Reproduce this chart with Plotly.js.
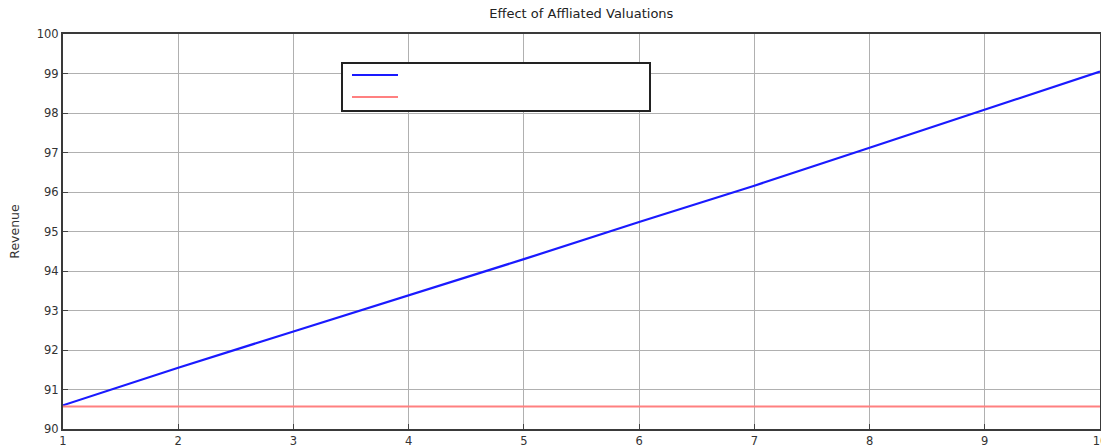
<!DOCTYPE html>
<html>
<head>
<meta charset="utf-8">
<script src="https://cdn.plot.ly/plotly-3.0.1.min.js"></script>
<style>html,body{margin:0;padding:0;background:#fff;}#chart{width:1101px;height:448px;}</style>
</head>
<body>
<div id="chart"></div>
<script>
const xValues = [1, 2, 3, 4, 5, 6, 7, 8, 9, 10];
const affiliatedRevenue = [90.6, 91.55, 92.47, 93.38, 94.3, 95.24, 96.16, 97.12, 98.08, 99.05];
const baselineRevenue = [90.57, 90.57, 90.57, 90.57, 90.57, 90.57, 90.57, 90.57, 90.57, 90.57];
const xTicks = [1, 2, 3, 4, 5, 6, 7, 8, 9, 10];
const yTicks = [90, 91, 92, 93, 94, 95, 96, 97, 98, 99, 100];

const font = {family: 'DejaVu Sans, Liberation Sans, sans-serif', size: 11.5, color: '#333'};

const traces = [
  {x: xValues, y: affiliatedRevenue, mode: 'lines', line: {color: '#1a1aff', width: 2.2}, name: ' ', hoverinfo: 'x+y'},
  {x: xValues, y: baselineRevenue, mode: 'lines', line: {color: '#ff8080', width: 2}, name: ' ', hoverinfo: 'x+y'}
];

const layout = {
  width: 1101, height: 448,
  margin: {l: 63, r: 1, t: 34, b: 19},
  paper_bgcolor: '#fff', plot_bgcolor: '#fff',
  font: font,
  showlegend: false,
  title: {text: 'Effect of Affliated Valuations', font: {family: font.family, size: 13, color: '#222'}, x: 0.528, xanchor: 'center', y: 0.97, yanchor: 'middle'},
  xaxis: {
    range: [1, 10], tickvals: xTicks, ticktext: xTicks.map(String),
    showgrid: true, gridcolor: '#b0b0b0', gridwidth: 1,
    showline: true, linecolor: '#3a3a3a', linewidth: 2, mirror: true,
    ticks: 'inside', ticklen: 5, tickcolor: '#444', tickwidth: 1,
    zeroline: false, tickfont: font, ticklabeloverflow: 'allow'
  },
  yaxis: {
    range: [90, 100], tickvals: yTicks, ticktext: yTicks.map(String),
    showgrid: true, gridcolor: '#b0b0b0', gridwidth: 1,
    showline: true, linecolor: '#3a3a3a', linewidth: 2, mirror: true,
    ticks: 'inside', ticklen: 5, tickcolor: '#444', tickwidth: 1,
    zeroline: false, tickfont: font,
    title: {text: 'Revenue', font: {family: font.family, size: 12.5, color: '#333'}, standoff: 14}
  },
  shapes: [
    {type: 'rect', xref: 'paper', yref: 'paper', x0: (342-63)/1037, x1: (650-63)/1037, y0: (429-111)/395, y1: (429-63)/395,
     line: {color: '#222', width: 2}, fillcolor: '#fff', layer: 'above'},
    {type: 'line', xref: 'paper', yref: 'paper', x0: (352-63)/1037, x1: (398-63)/1037, y0: (429-75)/395, y1: (429-75)/395,
     line: {color: '#1a1aff', width: 2.2}, layer: 'above'},
    {type: 'line', xref: 'paper', yref: 'paper', x0: (352-63)/1037, x1: (398-63)/1037, y0: (429-97)/395, y1: (429-97)/395,
     line: {color: '#ff8080', width: 2}, layer: 'above'}
  ]
};

Plotly.newPlot('chart', traces, layout, {displayModeBar: false, staticPlot: true});
</script>
</body>
</html>
